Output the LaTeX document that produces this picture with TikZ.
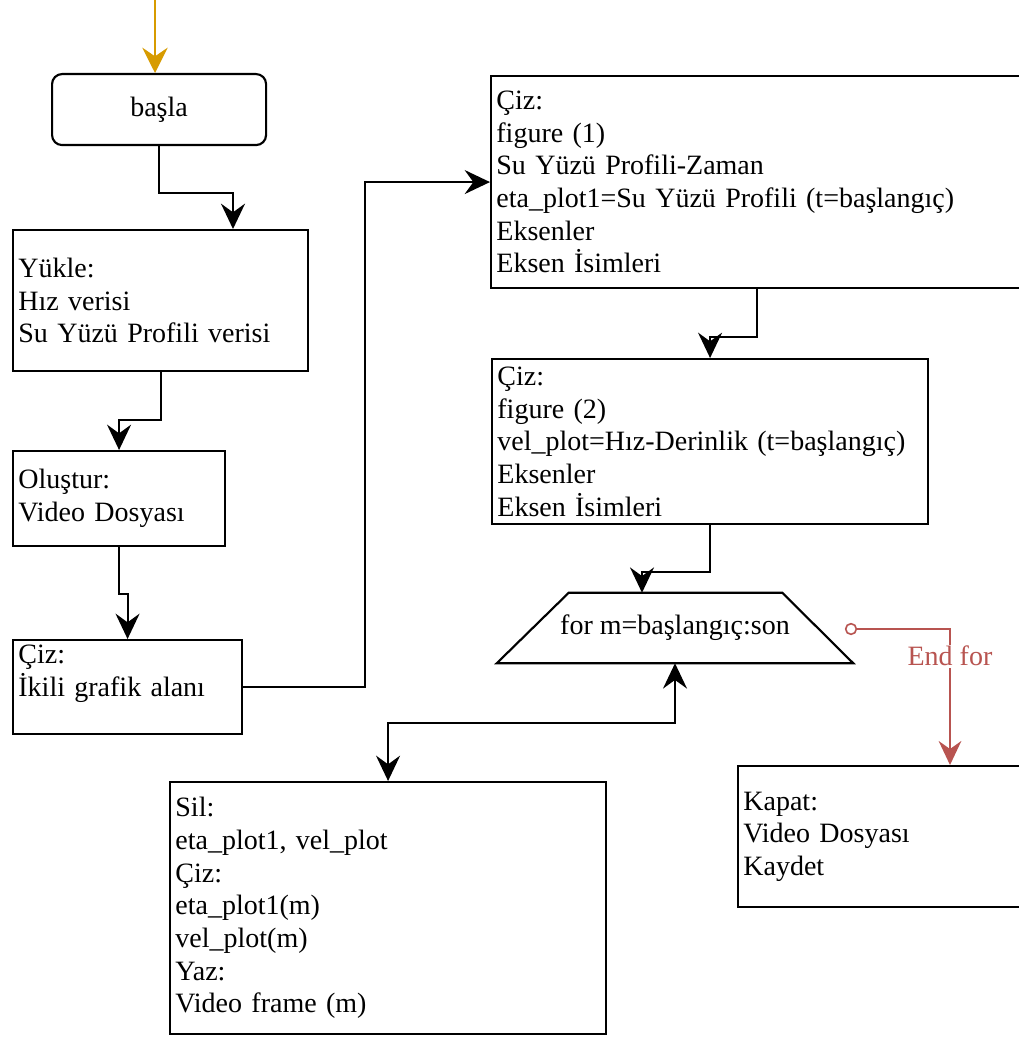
\documentclass[tikz,border=0pt]{standalone}
\usepackage{fontspec}
\setmainfont{Liberation Serif}
\usetikzlibrary{arrows.meta,calc}
\definecolor{orangeline}{HTML}{D79B00}
\definecolor{redline}{HTML}{B85450}
\begin{document}
\begin{tikzpicture}[x=0.75pt,y=-0.75pt,
  every node/.style={font=\fontsize{21}{24.5}\selectfont},
  box/.style={draw, line width=1.6pt, rectangle, anchor=north west, inner xsep=4pt, inner ysep=0pt, align=left},
  tipk/.style={Stealth[length=19pt,width=18pt,inset=6.5pt]},
  arr/.style={line width=1.6pt, -{Stealth[length=19pt,width=18pt,inset=6.5pt]}},
  arrboth/.style={line width=1.6pt, {Stealth[length=19pt,width=18pt,inset=6.5pt]}-{Stealth[length=19pt,width=18pt,inset=6.5pt]}},
  oarr/.style={draw=orangeline, line width=1.2pt, -{Stealth[length=19pt,width=19pt,inset=6.5pt,fill=orangeline]}},
  rarr/.style={draw=redline, line width=1.2pt, -{Stealth[length=18pt,width=17pt,inset=6pt,fill=redline]}},
  redlabel/.style={text=redline, fill=white, inner sep=1pt}
]
\fill[white] (0,0) rectangle (1018,1038);
\useasboundingbox (0,0) rectangle (1018,1038);

\node[box, rounded corners=7.5pt, align=center, minimum width=160.5pt, minimum height=53.25pt] (basla) at (51,73) {başla};

\node[box, minimum width=221.25pt, minimum height=105.75pt, text width=213.25pt] (yukle) at (12,229)
  {Yükle:\\Hız verisi\\Su Yüzü Profili verisi};

\node[box, minimum width=159pt, minimum height=71.25pt, text width=151pt] (olustur) at (12,450)
  {Oluştur:\\Video Dosyası};

\node[box, minimum width=171.75pt, minimum height=70.5pt, text width=163.75pt] (ciz0) at (12,639)
  {Çiz:\\İkili grafik alanı\\\mbox{}};

\node[box, minimum width=399pt, minimum height=159pt, text width=391pt] (ciz1) at (490,75)
  {Çiz:\\figure (1)\\Su Yüzü Profili-Zaman\\eta\_plot1=Su Yüzü Profili (t=başlangıç)\\Eksenler\\Eksen İsimleri};

\node[box, minimum width=327pt, minimum height=123.75pt, text width=319pt] (ciz2) at (491,358)
  {Çiz:\\figure (2)\\vel\_plot=Hız-Derinlik (t=başlangıç)\\Eksenler\\Eksen İsimleri};

\node[minimum width=267pt, minimum height=52.5pt, inner sep=0pt] (loop) at (675,628) {for m=başlangıç:son};
\draw[line width=1.6pt] (loop.south west) -- (loop.south east) -- ($(loop.north east)+(-71,0)$) -- ($(loop.north west)+(72,0)$) -- cycle;

\node[box, minimum width=327pt, minimum height=189pt, text width=319pt] (sil) at (169,781)
  {Sil:\\eta\_plot1, vel\_plot\\Çiz:\\eta\_plot1(m)\\vel\_plot(m)\\Yaz:\\Video frame (m)};

\node[box, minimum width=213.75pt, minimum height=105.75pt, text width=205.75pt] (kapat) at (737,765)
  {Kapat:\\Video Dosyası\\Kaydet};

% connectors
\coordinate (top) at (155,0);
\draw[oarr] (top) -- (top |- basla.north);
\draw[arr] (basla.south) -- ++(0,47) -| (yukle.north -| 233,0);
\draw[arr] (yukle.south) -- ++(0,48) -| (olustur.north);
\draw[arr] (olustur.south) -- ++(0,47) -| (ciz0.north);
\draw[arr] (ciz0.east) -| ($(ciz1.west)+(-125,0)$) -- (ciz1.west);
\draw[arr] (ciz1.south) -- ++(0,48) -| (ciz2.north);
\draw[arr] (ciz2.south) -- ++(0,47) -| (loop.north -| 642,0);
\draw[arrboth] (loop.south) -- ++(0,60) -| (sil.north);

\node[circle, draw=redline, fill=white, line width=1.2pt, minimum size=8pt, inner sep=0pt] (efo) at (851,629) {};
\draw[rarr] (efo.east) -| (kapat.north -| 950,0) node[pos=0.6, redlabel] (eflbl) {End for};
\end{tikzpicture}
\end{document}
